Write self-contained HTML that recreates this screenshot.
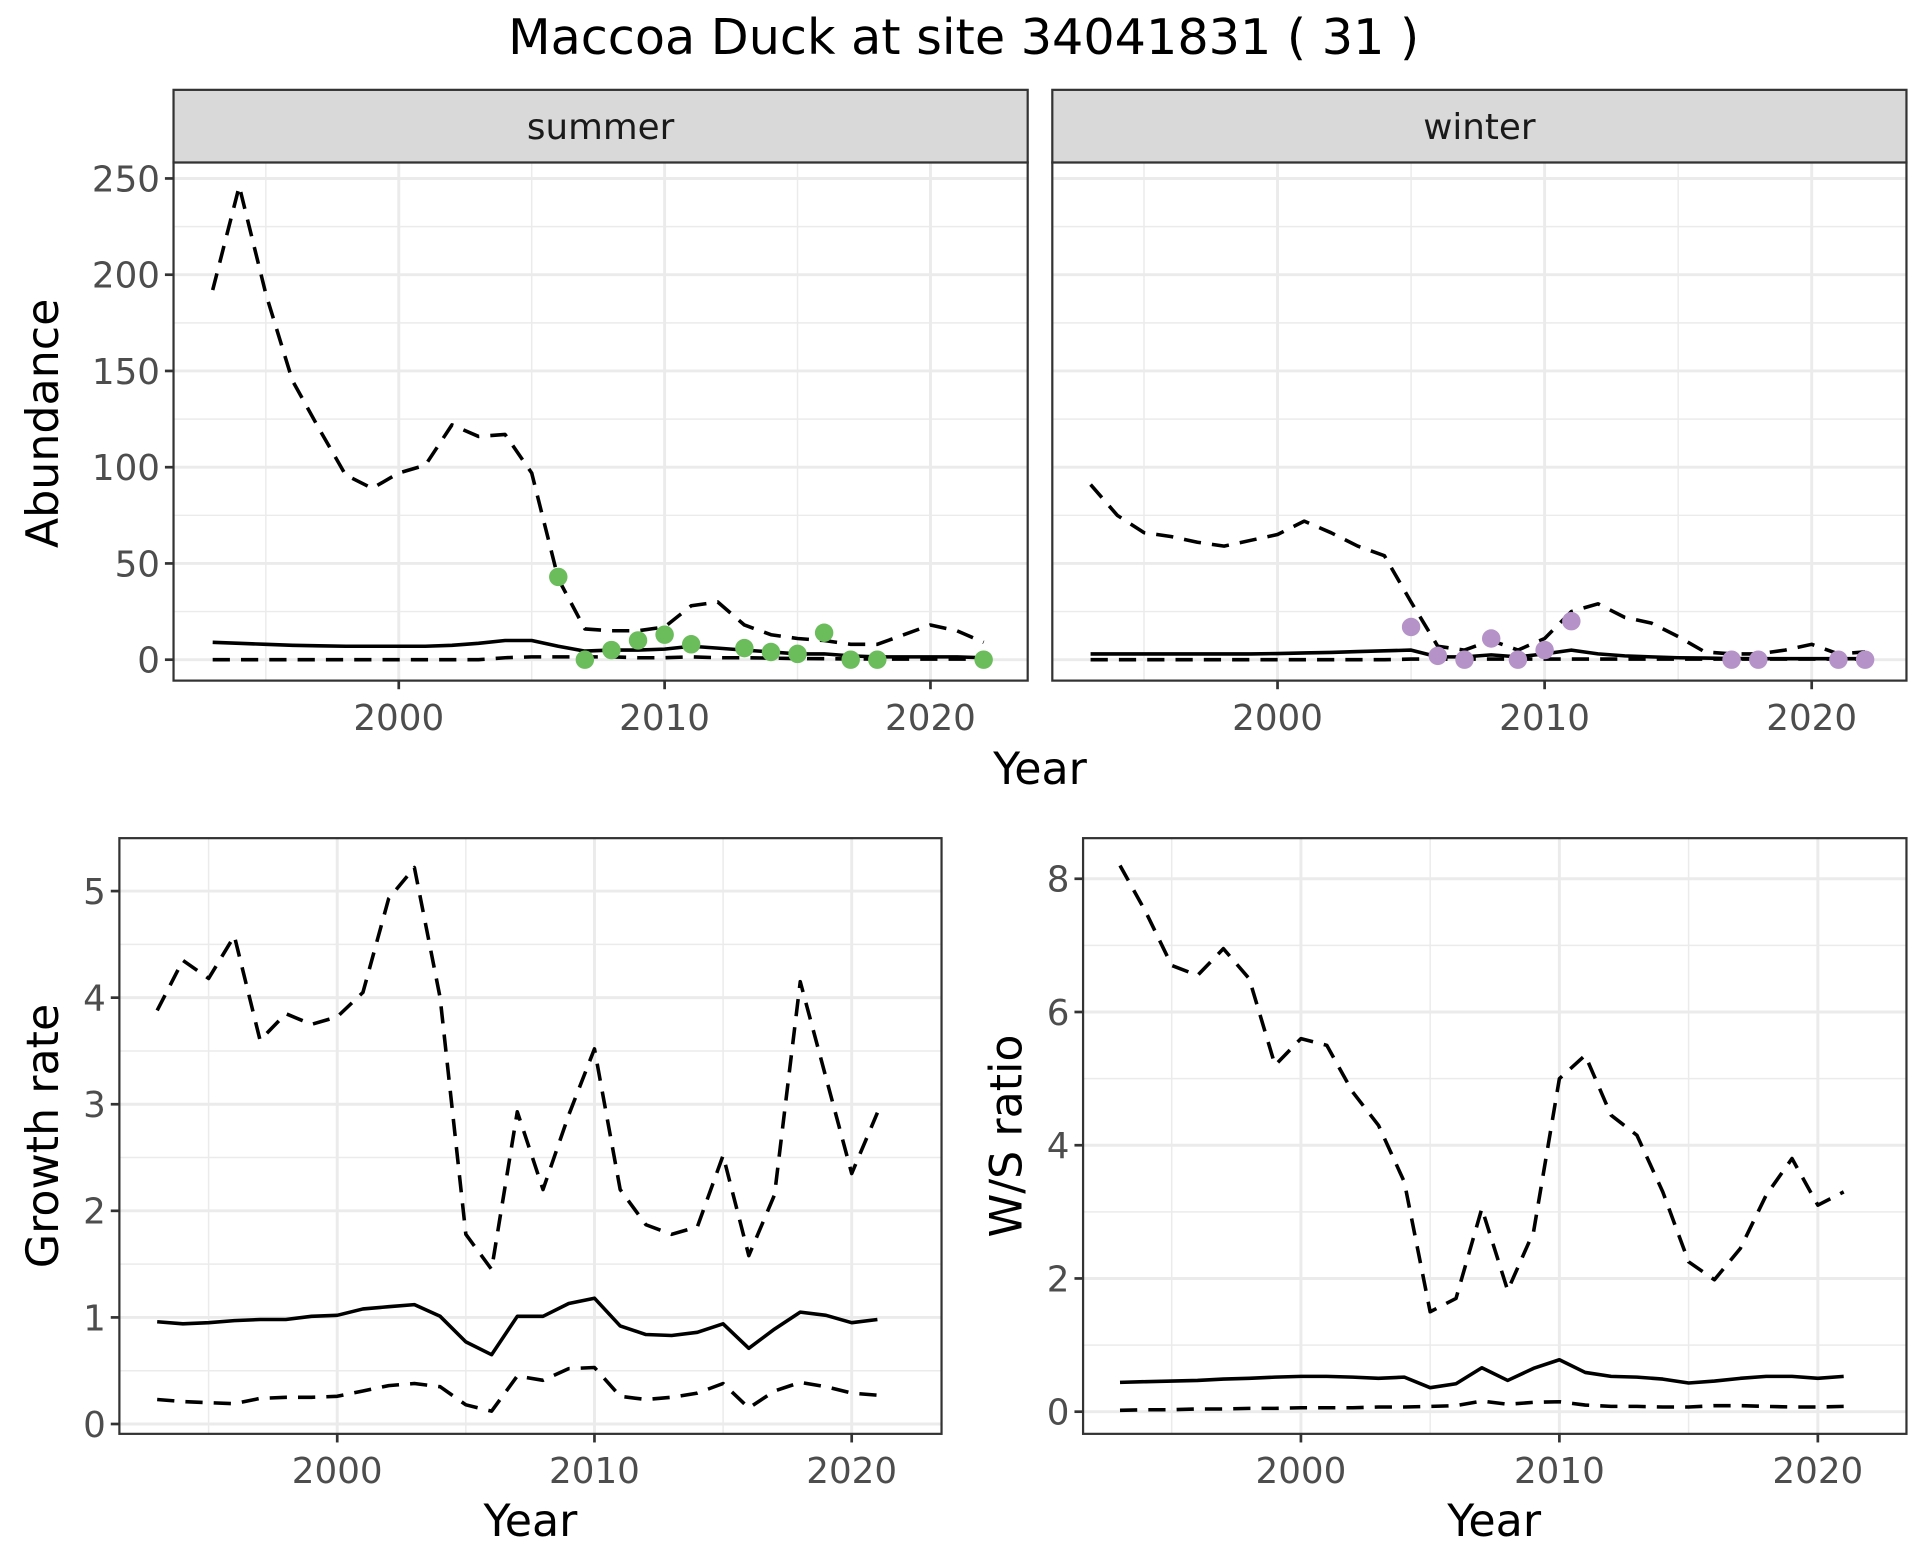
<!DOCTYPE html>
<html><head><meta charset="utf-8"><style>
html,body{margin:0;padding:0;background:#fff;}
svg{display:block;font-family:"DejaVu Sans","Liberation Sans",sans-serif;}
</style></head><body>
<svg id="chart" width="1920" height="1560" viewBox="0 0 1560 1267.5" xmlns="http://www.w3.org/2000/svg">
<text x="783" y="44" font-size="40" text-anchor="middle" fill="#000">Maccoa Duck at site 34041831 ( 31 )</text>
</svg>
<script>
const yearsA = [];
for (let y=1993;y<=2022;y++) yearsA.push(y);
const summerUpper=[192,246,190,145,120,96,89,97,101,122,116,117,97,42,16,15,15,17,28,30,18,13,11,10,8,8,13,18,15,9];
const summerMean=[9,8.5,8,7.5,7.2,7,7,7,7,7.5,8.5,10,10,7,4.5,5,5,5.5,7,6,5,4,3,3,2,1.5,1.5,1.5,1.5,1];
const summerLower=[0,0,0,0,0,0,0,0,0,0,0,1,1.5,1.5,1.5,1.5,1,1,1.5,1,1,0.8,0.6,0.5,0.4,0.3,0.3,0.3,0.3,0.3];
const summerPtYears=[2006,2007,2008,2009,2010,2011,2013,2014,2015,2016,2017,2018,2022];
const summerPts=[43,0,5,10,13,8,6,4,3,14,0,0,0];
const winterUpper=[91,75,66,64,61,59,62,65,72,66,59,54,30,7,5,10,5,11,25,29,22,19,12,4,3,3,5,8,3,4];
const winterMean=[3,3,3,3,3,3,3,3.2,3.5,3.8,4.2,4.6,5,1.5,1.5,2.5,1.5,3,5,3,2,1.5,1,0.8,0.6,0.5,0.5,0.5,0.5,0.5];
const winterLower=[0,0,0,0,0,0,0,0,0,0,0,0,0.3,0.3,0.3,0.3,0.3,0.3,0.3,0.3,0.3,0.3,0.3,0.3,0.3,0.3,0.3,0.3,0.3,0.3];
const winterPtYears=[2005,2006,2007,2008,2009,2010,2011,2017,2018,2021,2022];
const winterPts=[17,2,0,11,0,5,20,0,0,0,0];
const yearsB=[];
for (let y=1993;y<=2021;y++) yearsB.push(y);
const growthUpper=[3.88,4.35,4.18,4.58,3.6,3.85,3.75,3.82,4.05,4.93,5.22,4.0,1.78,1.45,2.93,2.2,2.9,3.52,2.2,1.87,1.78,1.85,2.52,1.58,2.15,4.15,3.25,2.35,2.92];
const growthMean=[.96,.94,.95,.97,.98,.98,1.01,1.02,1.08,1.1,1.12,1.01,.77,.65,1.01,1.01,1.13,1.18,.92,.84,.83,.86,.94,.71,.89,1.05,1.02,.95,.98];
const growthLower=[.23,.21,.2,.19,.24,.25,.25,.26,.31,.36,.38,.35,.18,.12,.45,.41,.52,.53,.26,.23,.25,.29,.38,.15,.31,.39,.35,.29,.27];
const wsUpper=[8.2,7.5,6.7,6.55,6.95,6.5,5.2,5.6,5.5,4.8,4.3,3.45,1.5,1.7,3.05,1.82,2.7,5.0,5.35,4.45,4.15,3.3,2.25,1.98,2.45,3.25,3.8,3.1,3.3];
const wsMean=[.44,.45,.46,.47,.49,.5,.52,.53,.53,.52,.5,.52,.36,.42,.66,.47,.65,.78,.59,.53,.52,.49,.43,.46,.5,.53,.53,.5,.53];
const wsLower=[.02,.03,.03,.04,.04,.05,.05,.06,.06,.06,.07,.07,.08,.09,.16,.11,.14,.15,.1,.08,.08,.07,.07,.09,.09,.08,.07,.07,.08];
const xTicks=[2000,2010,2020];
const xMinor=[1995,2005,2015];
const abTicks=[0,50,100,150,200,250];
const abMinor=[25,75,125,175,225];
const grTicks=[0,1,2,3,4,5];
const grMinor=[0.5,1.5,2.5,3.5,4.5];
const wsTicks=[0,2,4,6,8];
const wsMinor=[1,3,5,7];

const svg=document.getElementById('chart');
const NS='http://www.w3.org/2000/svg';
function mk(tag,attrs,parent){const e=document.createElementNS(NS,tag);for(const k in attrs)e.setAttribute(k,attrs[k]);(parent||svg).appendChild(e);return e;}

function panel(p){
  const g=mk('g',{});
  
  
  const sx=v=>p.x0+(v-p.xa)*(p.x1-p.x0)/(p.xb-p.xa);
  const sy=v=>p.y0+(v-p.ya)*(p.y1-p.y0)/(p.yb-p.ya);
  p.xMinor.forEach(v=>{const l=mk('line',{x1:sx(v),x2:sx(v),y1:p.top,y2:p.bottom,stroke:'#ebebeb','stroke-width':1.2},g);});
  p.yMinor.forEach(v=>{const l=mk('line',{x1:p.left,x2:p.right,y1:sy(v),y2:sy(v),stroke:'#ebebeb','stroke-width':1.2},g);});
  xTicks.forEach(v=>{const l=mk('line',{x1:sx(v),x2:sx(v),y1:p.top,y2:p.bottom,stroke:'#ebebeb','stroke-width':2.4},g);});
  p.yTicks.forEach(v=>{const l=mk('line',{x1:p.left,x2:p.right,y1:sy(v),y2:sy(v),stroke:'#ebebeb','stroke-width':2.4},g);});
  const line=(xs,ys,dash,name)=>{
    const d=xs.map((x,i)=>(i?'L':'M')+sx(x).toFixed(1)+','+sy(ys[i]).toFixed(1)).join('');
    const a={d:d,fill:'none',stroke:'#000','stroke-width':2.9,'stroke-linejoin':'round'};
    if(dash)a['stroke-dasharray']='14,9';
    const e=mk('path',a,g);
    
    
  };
  line(p.xs,p.upper,true,'upper-ci-line');
  line(p.xs,p.mean,false,'mean-line');
  line(p.xs,p.lower,true,'lower-ci-line');
  if(p.ptX){p.ptX.forEach((x,i)=>{const c=mk('circle',{cx:sx(x),cy:sy(p.pts[i]),r:7.5,fill:p.ptColor},g);});}
  const b=mk('rect',{x:p.left,y:p.top,width:p.right-p.left,height:p.bottom-p.top,fill:'none',stroke:'#333','stroke-width':1.8},g);
  
  xTicks.forEach(v=>{
    const t=mk('line',{x1:sx(v),x2:sx(v),y1:p.bottom,y2:p.bottom+7,stroke:'#333','stroke-width':2.2},g);
    
    const tx=mk('text',{x:sx(v),y:p.bottom+40,'font-size':29,'text-anchor':'middle',fill:'#4d4d4d'},g);
    tx.textContent=v;
  });
  if(p.yLabels){p.yTicks.forEach(v=>{
    const t=mk('line',{x1:p.left-7,x2:p.left,y1:sy(v),y2:sy(v),stroke:'#333','stroke-width':2.2},g);
    
    const tx=mk('text',{x:p.left-11,y:sy(v)+10.5,'font-size':29,'text-anchor':'end',fill:'#4d4d4d'},g);
    tx.textContent=v;
  });}
  if(p.strip){
    const r=mk('rect',{x:p.left,y:73,width:p.right-p.left,height:p.top-73,fill:'#d9d9d9',stroke:'#333','stroke-width':1.8},g);
    
    const st=mk('text',{x:(p.left+p.right)/2,y:113,'font-size':29,'text-anchor':'middle',fill:'#1a1a1a'},g);
    st.textContent=p.strip;
  }
}
panel({name:'summer-panel',left:141,right:835,top:132,bottom:553,x0:324,x1:540,xa:2000,xb:2010,y0:536,y1:145,ya:0,yb:250,
  xMinor:xMinor,yMinor:abMinor,yTicks:abTicks,yLabels:true,xs:yearsA,upper:summerUpper,mean:summerMean,lower:summerLower,
  ptX:summerPtYears,pts:summerPts,ptColor:'#6abd5a',strip:'summer'});
panel({name:'winter-panel',left:855,right:1549,top:132,bottom:553,x0:1038,x1:1255,xa:2000,xb:2010,y0:536,y1:145,ya:0,yb:250,
  xMinor:xMinor,yMinor:abMinor,yTicks:abTicks,yLabels:false,xs:yearsA,upper:winterUpper,mean:winterMean,lower:winterLower,
  ptX:winterPtYears,pts:winterPts,ptColor:'#b592c8',strip:'winter'});
panel({name:'growth-panel',left:97,right:765,top:681,bottom:1165,x0:274,x1:483,xa:2000,xb:2010,y0:1157,y1:724,ya:0,yb:5,
  xMinor:xMinor,yMinor:grMinor,yTicks:grTicks,yLabels:true,xs:yearsB,upper:growthUpper,mean:growthMean,lower:growthLower});
panel({name:'ws-ratio-panel',left:880,right:1549,top:681,bottom:1165,x0:1057,x1:1267,xa:2000,xb:2010,y0:1147,y1:714,ya:0,yb:8,
  xMinor:xMinor,yMinor:wsMinor,yTicks:wsTicks,yLabels:true,xs:yearsB,upper:wsUpper,mean:wsMean,lower:wsLower});

function label(txt,x,y,rot,name){
  const t=mk('text',{x:x,y:y,'font-size':36,'text-anchor':'middle',fill:'#000'});
  if(rot)t.setAttribute('transform','rotate(-90 '+x+' '+y+')');
  t.textContent=txt;
  
  
}
label('Year',845,637,false,'x-axis-title-top');
label('Year',431,1248,false,'x-axis-title-growth');
label('Year',1214,1248,false,'x-axis-title-ws');
label('Abundance',47,344,true,'y-axis-title-abundance');
label('Growth rate',47,923,true,'y-axis-title-growth');
label('W/S ratio',830,923,true,'y-axis-title-ws');
</script>
</body></html>
